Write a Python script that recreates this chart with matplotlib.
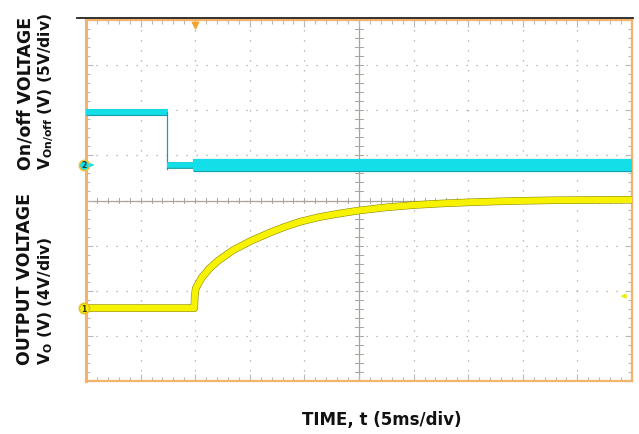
import matplotlib
matplotlib.use("Agg")
import matplotlib.pyplot as plt
import matplotlib.patheffects as pe
import numpy as np

# ---- data (time in ms, voltages in V) ----
t_onoff_high = [0.0, 7.39]
v_onoff_high = [5.9, 5.9]
t_onoff_edge = [7.39, 7.39]
v_onoff_edge = [5.9, -0.45]
t_onoff_low1 = [7.39, 9.8]
v_onoff_low1 = [-0.05, -0.05]
t_onoff_low2 = [9.8, 50.0]
v_onoff_low2 = [-0.05, -0.05]

t_out = [0, 9.92, 9.95, 10.05, 10.6, 11.3, 12.1, 13.5, 15.2, 17.0, 18.2, 19.6,
         21.3, 23.0, 25.0, 27.5, 30.0, 32.5, 35.0, 37.5, 40.0, 43.0, 46.5, 50]
v_out = [0, 0, 1.0, 1.75, 2.7, 3.5, 4.2, 5.15, 6.0, 6.75, 7.2, 7.65,
         8.05, 8.35, 8.65, 8.93, 9.13, 9.27, 9.37, 9.45, 9.51, 9.56, 9.58, 9.6]

ch2_scale = 5.0   # V/div
ch1_scale = 4.0   # V/div
ch2_pos = 0.787   # divisions above centre
ch1_pos = -2.384
trig_t = 9.98
trig_lvl = 1.06

def c2(v):
    return ch2_pos + np.asarray(v) / ch2_scale

def c1(v):
    return ch1_pos + np.asarray(v) / ch1_scale

fig = plt.figure(figsize=(6.39, 4.35), dpi=100)
ax = fig.add_axes([86/639, 1-382/435, (632-86)/639, (382-21)/435])
ax.set_xlim(0, 50)
ax.set_ylim(-4, 4)

orange = "#f4b36a"
gridc = "#b8b8b8"
for s in ax.spines.values():
    s.set_color(orange)
    s.set_linewidth(1.6)
ax.spines["left"].set_linewidth(2.2)

ax.set_xticks(np.arange(0, 51, 5))
ax.set_xticks(np.arange(0, 51, 1), minor=True)
ax.set_yticks(np.arange(-4, 5, 1))
ax.set_yticks(np.arange(-4, 4.01, 0.2), minor=True)
ax.tick_params(which="both", direction="in", top=True, right=True,
               labelbottom=False, labelleft=False, color=gridc, width=0.8)
ax.tick_params(which="major", length=5)
ax.tick_params(which="minor", length=3)
ax.grid(True, which="major", color="#a8a8a8", linestyle=(0, (1, 7)), linewidth=0.9)

# centre cross with ticks
ax.axhline(0, color="#a9a49a", lw=0.9, zorder=1)
ax.axvline(25, color="#a9a49a", lw=0.9, zorder=1)
for xx in np.arange(0, 51, 1):
    ax.plot([xx, xx], [-0.06, 0.06], color="#a9a49a", lw=0.7, zorder=1)
for yy in np.arange(-4, 4.01, 0.2):
    ax.plot([24.6, 25.4], [yy, yy], color="#a9a49a", lw=0.7, zorder=1)

cyan = "#14dfe8"
cyan_dark = "#13a0a8"
yellow = "#f6f200"
yellow_dark = "#8a8800"

def trace(x, y, color, edge, lw, extra=0.9):
    ax.plot(x, y, color=color, lw=lw, solid_capstyle="butt", zorder=3,
            path_effects=[pe.Stroke(linewidth=lw + extra, foreground=edge),
                          pe.Normal()])

trace(t_onoff_high, c2(v_onoff_high), cyan, cyan_dark, 4.2)
ax.plot(t_onoff_edge, c2(v_onoff_edge), color=cyan_dark, lw=0.9, zorder=3)
trace(t_onoff_low1, c2(v_onoff_low1), cyan, cyan_dark, 4.0)
trace(t_onoff_low2, c2(v_onoff_low2), cyan, cyan_dark, 8.6)

trace(t_out, c1(v_out), yellow, yellow_dark, 4.6, 0.8)

# channel markers
ax.scatter([-0.2], [ch2_pos], s=55, facecolor=cyan, edgecolor="#f2c23a",
           linewidth=1.2, zorder=6, clip_on=False)
ax.text(-0.2, ch2_pos, "2", fontsize=5.5, ha="center", va="center",
        color="#1a3a40", fontweight="bold", zorder=7, clip_on=False)
ax.annotate("", xy=(1.0, ch2_pos), xytext=(0.3, ch2_pos),
            arrowprops=dict(arrowstyle="-|>", color=cyan, lw=0.8,
                            mutation_scale=5), zorder=6)
ax.scatter([-0.2], [ch1_pos], s=55, facecolor=yellow, edgecolor="#e8c020",
           linewidth=1.2, zorder=6, clip_on=False)
ax.text(-0.2, ch1_pos, "1", fontsize=5.5, ha="center", va="center",
        color="#333300", fontweight="bold", zorder=7, clip_on=False)

# trigger markers
ax.scatter([trig_t], [3.88], marker="v", s=22, color="#f3a530", zorder=6,
           clip_on=False)
ax.annotate("", xy=(48.7, c1(trig_lvl)), xytext=(49.8, c1(trig_lvl)),
            arrowprops=dict(arrowstyle="-|>", color="#eeee00", lw=0.9,
                            mutation_scale=7), zorder=6)

# top black rule
fig.add_artist(plt.Line2D([77/639, 633/639], [1-19/435, 1-19/435],
                          color="#222222", lw=1.3))

fs = 12.5
fs2 = 11.2
fig.text(25/639, 1-170/435, "On/off VOLTAGE", rotation=90, rotation_mode="anchor",
         ha="left", va="center", fontsize=fs, fontweight="bold", color="#111111")
fig.text(46/639, 1-170/435, r"$\mathbf{V_{On/off}}$ (V) (5V/div)", rotation=90,
         rotation_mode="anchor", ha="left", va="center", fontsize=fs2,
         fontweight="bold", color="#111111")
fig.text(25/639, 1-365/435, "OUTPUT VOLTAGE", rotation=90, rotation_mode="anchor",
         ha="left", va="center", fontsize=fs, fontweight="bold", color="#111111")
fig.text(46/639, 1-365/435, r"$\mathbf{V_{O}}$ (V) (4V/div)", rotation=90,
         rotation_mode="anchor", ha="left", va="center", fontsize=fs2,
         fontweight="bold", color="#111111")
fig.text(382/639, 1-420/435, "TIME, t (5ms/div)", ha="center", va="center",
         fontsize=12, fontweight="bold", color="#111111")

fig.savefig("out.png", dpi=100)
